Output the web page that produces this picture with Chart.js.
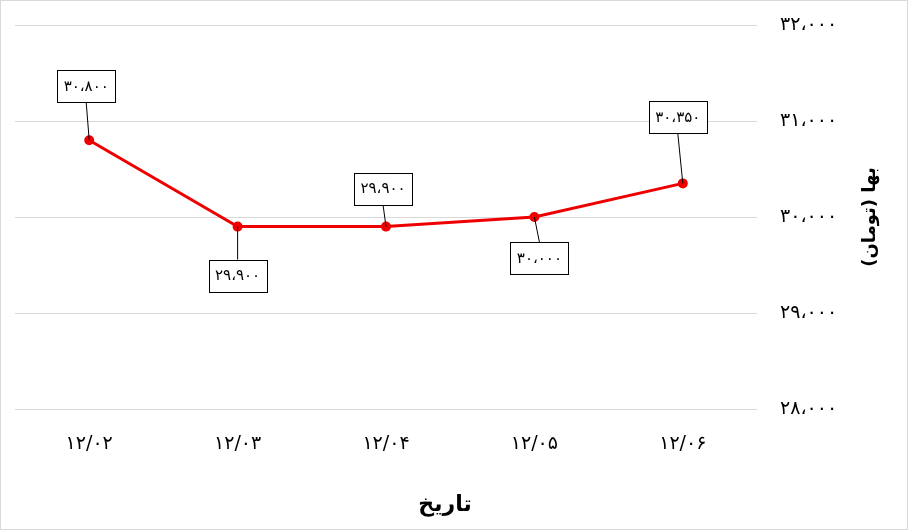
<!DOCTYPE html>
<html>
<head>
<meta charset="utf-8">
<script src="https://cdn.jsdelivr.net/npm/chart.js@4"></script>
<style>
  body { margin: 0; background: #fff; }
  #wrap { width: 908px; height: 530px; position: relative; }
</style>
</head>
<body>
<div id="wrap"><canvas id="chart"></canvas></div>
<script>
  // dates (Persian digits) and prices in toman
  const categories = ['۱۲/۰۲', '۱۲/۰۳', '۱۲/۰۴', '۱۲/۰۵', '۱۲/۰۶'];
  const prices = [30800, 29900, 29900, 30000, 30350];
  const yTicks = [28000, 29000, 30000, 31000, 32000];

  // where each callout box sits relative to its point (px)
  const labelOffsets = [[-3, -54], [0, 49], [-3, -38], [5, 41], [-5, -66]];

  const FONT = "'DejaVu Sans', sans-serif";

  function toFa(n) {
    const s = Math.round(n).toString().replace(/\B(?=(\d{3})+(?!\d))/g, '،');
    return s.replace(/\d/g, d => '۰۱۲۳۴۵۶۷۸۹'[d]);
  }

  // callout boxes + leader lines, axis titles, outer frame
  const decorations = {
    id: 'decorations',
    afterDatasetsDraw(chart) {
      const ctx = chart.ctx;
      const meta = chart.getDatasetMeta(0);
      ctx.save();
      ctx.font = '15px ' + FONT;
      ctx.textAlign = 'center';
      ctx.textBaseline = 'middle';
      meta.data.forEach((pt, i) => {
        const [dx, dy] = labelOffsets[i];
        const cx = pt.x + dx, cy = pt.y + dy;
        const text = toFa(prices[i]);
        const w = Math.round(ctx.measureText(text).width + 13);
        const h = 32;
        const edgeY = dy < 0 ? cy + h / 2 : cy - h / 2;
        ctx.strokeStyle = '#000';
        ctx.lineWidth = 1;
        ctx.beginPath();
        ctx.moveTo(pt.x, pt.y);
        ctx.lineTo(cx, edgeY);
        ctx.stroke();
        const bx = Math.round(cx - w / 2), by = Math.round(cy - h / 2);
        ctx.fillStyle = '#fff';
        ctx.fillRect(bx, by, w, h);
        ctx.strokeRect(bx + 0.5, by + 0.5, w, h);
        ctx.fillStyle = '#000';
        ctx.fillText(text, cx, cy + 1);
      });
      ctx.restore();
    },
    afterDraw(chart) {
      const ctx = chart.ctx;
      const area = chart.chartArea;
      ctx.save();
      ctx.direction = 'rtl';
      ctx.fillStyle = '#000';
      ctx.textAlign = 'center';
      ctx.textBaseline = 'middle';
      ctx.font = 'bold 22px ' + FONT;
      ctx.fillText('تاریخ', 445, 505);
      ctx.font = 'bold 18px ' + FONT;
      ctx.translate(870, (area.top + area.bottom) / 2);
      ctx.rotate(-Math.PI / 2);
      ctx.fillText('بها (تومان)', 0, 0);
      ctx.restore();
      ctx.save();
      ctx.strokeStyle = '#d9d9d9';
      ctx.lineWidth = 1;
      ctx.strokeRect(0.5, 0.5, chart.width - 1, chart.height - 1);
      ctx.restore();
    }
  };

  new Chart(document.getElementById('chart'), {
    type: 'line',
    data: {
      labels: categories,
      datasets: [{
        data: prices,
        borderColor: '#ee0000',
        backgroundColor: '#ee0000',
        borderWidth: 3,
        pointRadius: 3.5,
        pointHoverRadius: 3.5,
        tension: 0,
        fill: false
      }]
    },
    options: {
      responsive: true,
      maintainAspectRatio: false,
      animation: false,
      layout: { padding: { left: 15, right: 0, top: 25, bottom: 0 } },
      plugins: {
        legend: { display: false },
        tooltip: { enabled: false }
      },
      scales: {
        x: {
          offset: true,
          grid: { display: false, drawTicks: false },
          border: { display: false },
          ticks: { color: '#000', font: { family: FONT, size: 19 }, padding: 24 },
          afterFit(scale) { scale.height = 121; }
        },
        y: {
          position: 'right',
          min: yTicks[0],
          max: yTicks[yTicks.length - 1],
          grid: { color: '#d9d9d9', drawTicks: false },
          border: { display: false },
          ticks: {
            stepSize: yTicks[1] - yTicks[0],
            color: '#000',
            font: { family: FONT, size: 19 },
            padding: 23,
            callback: v => toFa(v)
          },
          afterFit(scale) {
            scale.width = 151;
            scale.paddingTop = 0;
            scale.paddingBottom = 0;
          }
        }
      }
    },
    plugins: [decorations]
  });
</script>
</body>
</html>
